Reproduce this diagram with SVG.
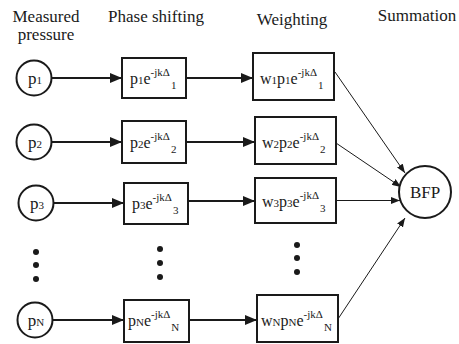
<svg xmlns="http://www.w3.org/2000/svg" width="459" height="344" viewBox="0 0 459 344">
<style>
  text { font-family: "Liberation Serif", "DejaVu Serif", "Times New Roman", serif; fill: #1a1a1a; }
  .h { font-size: 17px; text-anchor: middle; }
  .m { font-size: 16px; }
  .c { font-size: 17px; text-anchor: middle; }
  .s { font-size: 11px; }
  .node { fill: #fff; stroke: #1a1a1a; stroke-width: 2; }
  .thick { stroke: #1a1a1a; stroke-width: 2; fill: none; }
  .thin { stroke: #1a1a1a; stroke-width: 1; fill: none; }
  .dot { fill: #1a1a1a; }
</style>
<defs>
  <marker id="ah" markerUnits="userSpaceOnUse" markerWidth="12" markerHeight="10" refX="12" refY="5" orient="auto">
    <path d="M0,0 L12,5 L0,10 z" fill="#1a1a1a"/>
  </marker>
  <marker id="as" markerUnits="userSpaceOnUse" markerWidth="9" markerHeight="7" refX="9" refY="3.5" orient="auto">
    <path d="M0,0 L9,3.5 L0,7 z" fill="#1a1a1a"/>
  </marker>
</defs>

<g id="headers">
  <text class="h" x="46" y="22">Measured</text>
  <text class="h" x="46" y="40">pressure</text>
  <text class="h" x="156" y="22">Phase shifting</text>
  <text class="h" x="292" y="25">Weighting</text>
  <text class="h" x="417" y="21">Summation</text>
</g>

<g id="connectors">
  <line class="thick" x1="52" y1="78" x2="122" y2="78" marker-end="url(#ah)"/>
  <line class="thick" x1="186" y1="78" x2="253" y2="78" marker-end="url(#ah)"/>
  <line class="thick" x1="52" y1="142" x2="122" y2="142" marker-end="url(#ah)"/>
  <line class="thick" x1="186" y1="142" x2="255" y2="142" marker-end="url(#ah)"/>
  <line class="thick" x1="54" y1="203" x2="124" y2="203" marker-end="url(#ah)"/>
  <line class="thick" x1="188" y1="201" x2="255" y2="201" marker-end="url(#ah)"/>
  <line class="thick" x1="53" y1="320" x2="124" y2="320" marker-end="url(#ah)"/>
  <line class="thick" x1="189" y1="320" x2="257" y2="320" marker-end="url(#ah)"/>
  <line class="thin" x1="335" y1="72" x2="405" y2="173" marker-end="url(#as)"/>
  <line class="thin" x1="336" y1="143" x2="401" y2="187" marker-end="url(#as)"/>
  <line class="thin" x1="336" y1="200.5" x2="400" y2="200.5" marker-end="url(#as)"/>
  <line class="thin" x1="338" y1="319" x2="405" y2="218" marker-end="url(#as)"/>
</g>

<g id="p1">
  <circle class="node" cx="34" cy="78" r="17.5"/>
  <text class="c" x="35" y="84">p<tspan class="s">1</tspan></text>
</g>
<g id="p2">
  <circle class="node" cx="34" cy="142" r="17.5"/>
  <text class="c" x="35" y="148">p<tspan class="s">2</tspan></text>
</g>
<g id="p3">
  <circle class="node" cx="36" cy="203" r="17.5"/>
  <text class="c" x="37" y="209">p<tspan class="s">3</tspan></text>
</g>
<g id="pN">
  <circle class="node" cx="35" cy="320" r="17.5"/>
  <text class="c" x="36" y="326">p<tspan class="s">N</tspan></text>
</g>

<g id="dots1">
  <circle class="dot" cx="36" cy="252" r="3"/>
  <circle class="dot" cx="36" cy="265" r="3"/>
  <circle class="dot" cx="36" cy="279" r="3"/>
</g>
<g id="dots2">
  <circle class="dot" cx="160" cy="249" r="3"/>
  <circle class="dot" cx="160" cy="263" r="3"/>
  <circle class="dot" cx="160" cy="277" r="3"/>
</g>
<g id="dots3">
  <circle class="dot" cx="297" cy="245" r="3"/>
  <circle class="dot" cx="297" cy="258" r="3"/>
  <circle class="dot" cx="297" cy="272" r="3"/>
</g>

<g id="ps1">
  <rect class="node" x="122" y="58" width="64" height="40"/>
  <text class="m" x="130" y="84">p<tspan class="s">1</tspan>e<tspan class="s" dy="-8">-jkΔ</tspan><tspan class="s" dx="1" dy="13">1</tspan></text>
</g>
<g id="ps2">
  <rect class="node" x="122" y="121" width="64" height="42"/>
  <text class="m" x="130" y="148">p<tspan class="s">2</tspan>e<tspan class="s" dy="-8">-jkΔ</tspan><tspan class="s" dx="1" dy="13">2</tspan></text>
</g>
<g id="ps3">
  <rect class="node" x="124" y="183" width="64" height="41"/>
  <text class="m" x="132" y="209">p<tspan class="s">3</tspan>e<tspan class="s" dy="-8">-jkΔ</tspan><tspan class="s" dx="1" dy="13">3</tspan></text>
</g>
<g id="psN">
  <rect class="node" x="124" y="300" width="65" height="42"/>
  <text class="m" x="128" y="326">p<tspan class="s">N</tspan>e<tspan class="s" dy="-8">-jkΔ</tspan><tspan class="s" dx="1" dy="13">N</tspan></text>
</g>

<g id="w1">
  <rect class="node" x="253" y="53" width="81" height="47"/>
  <text class="m" x="260" y="84">w<tspan class="s">1</tspan>p<tspan class="s">1</tspan>e<tspan class="s" dy="-8">-jkΔ</tspan><tspan class="s" dx="1" dy="13">1</tspan></text>
</g>
<g id="w2">
  <rect class="node" x="255" y="117" width="81" height="47"/>
  <text class="m" x="262" y="148">w<tspan class="s">2</tspan>p<tspan class="s">2</tspan>e<tspan class="s" dy="-8">-jkΔ</tspan><tspan class="s" dx="1" dy="13">2</tspan></text>
</g>
<g id="w3">
  <rect class="node" x="255" y="178" width="81" height="45"/>
  <text class="m" x="262" y="207">w<tspan class="s">3</tspan>p<tspan class="s">3</tspan>e<tspan class="s" dy="-8">-jkΔ</tspan><tspan class="s" dx="1" dy="13">3</tspan></text>
</g>
<g id="wN">
  <rect class="node" x="257" y="295" width="81" height="47"/>
  <text class="m" x="261" y="326">w<tspan class="s">N</tspan>p<tspan class="s">N</tspan>e<tspan class="s" dy="-8">-jkΔ</tspan><tspan class="s" dx="1" dy="13">N</tspan></text>
</g>

<g id="bfp">
  <circle class="node" cx="425" cy="192" r="26"/>
  <text class="c" x="425" y="198">BFP</text>
</g>
</svg>
